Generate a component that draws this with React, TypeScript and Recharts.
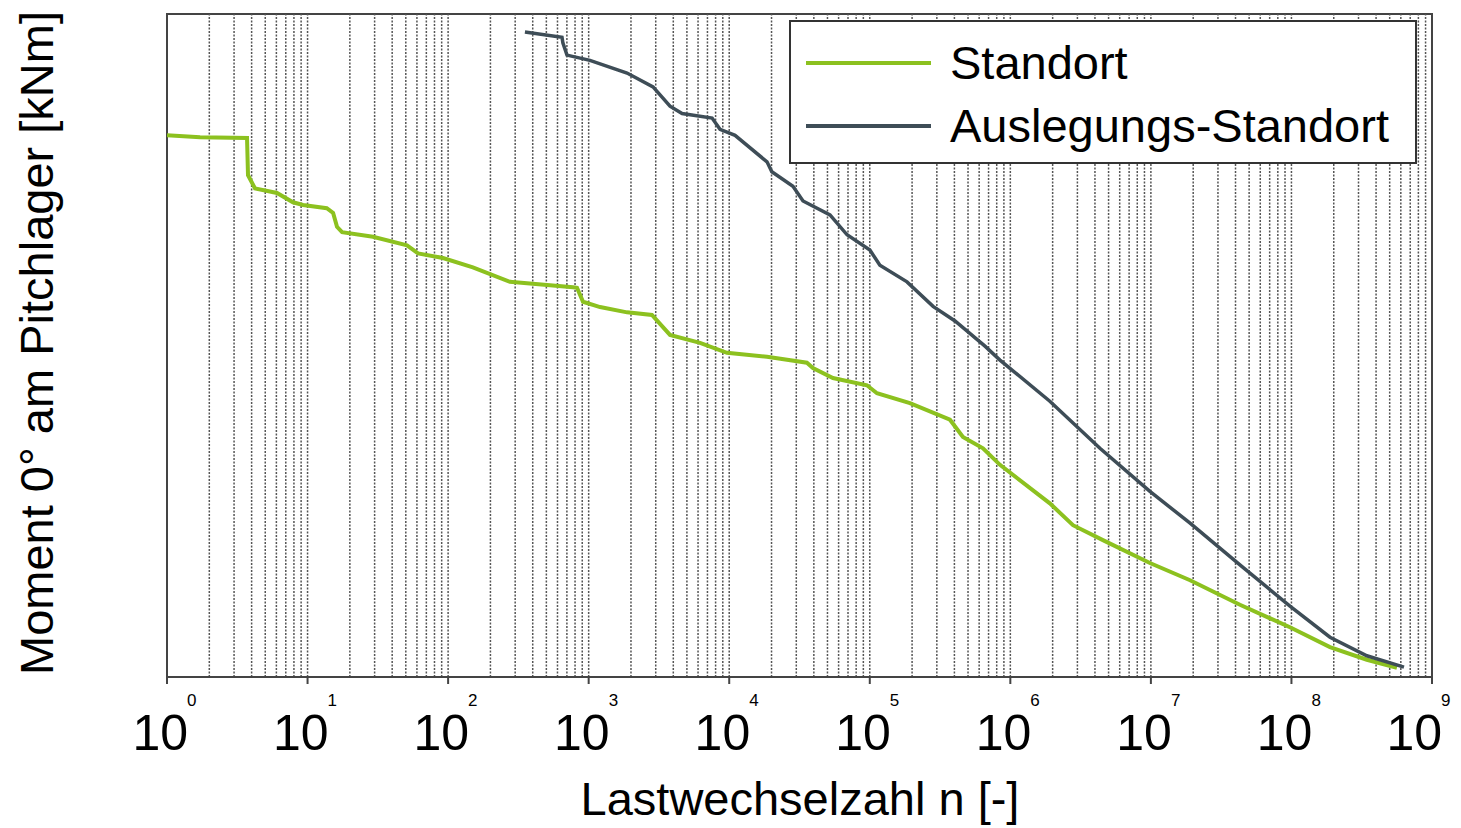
import React from 'react';
import { LineChart, Line, XAxis, YAxis, ReferenceLine, ReferenceArea } from 'recharts';

// Lastwechselzahl n (cycles) and moment values (relative units, axis is unlabeled)
const standortN = [1, 1.72, 3.71, 3.77, 4.23, 6.06, 7.88, 9.29, 13.7, 15.2, 16.2, 17.6, 29.2, 51, 61.1, 92, 150, 275, 364, 773, 826, 912, 1205, 1875, 2820, 3790, 6200, 9640, 18570, 35700, 39400, 54700, 95500, 112500, 193000, 372000, 460000, 639000, 844000, 1.91e6, 2.79e6, 4.71e6, 9.84e6, 1.9e7, 4.3e7, 9.76e7, 1.88e8, 3.44e8, 5.63e8];
const standortM = [817, 814, 813, 757, 737, 730, 716, 712, 707, 700, 679, 671, 664, 651, 639, 632, 618, 596, 594, 588, 587, 566, 558, 550, 546, 516, 504, 489, 483, 474, 466, 451, 440, 428, 413, 388, 362, 345, 320, 262, 229, 205, 172, 146, 109, 75, 45, 26, 14];

const auslegungN = [352, 646, 656, 701, 1021, 1875, 2870, 3790, 4620, 7550, 8600, 11000, 18570, 20100, 28400, 33500, 52100, 68900, 100200, 118000, 184000, 282000, 404000, 660000, 844000, 1.91e6, 4.34e6, 9.84e6, 1.9e7, 4.3e7, 9.76e7, 1.88e8, 3.44e8, 6.32e8];
const auslegungM = [973, 965, 956, 938, 930, 911, 890, 861, 850, 843, 826, 817, 777, 762, 740, 718, 697, 667, 644, 621, 596, 559, 537, 499, 478, 416, 345, 280, 232, 169, 107, 60, 32, 15];

const decades = [0, 1, 2, 3, 4, 5, 6, 7, 8, 9];
const seriesNames = ['Standort', 'Auslegungs-Standort'];
const seriesColors = ['#8cc11f', '#3e4d57'];

const standortData = standortN.map((n, i) => ({ n, m: standortM[i] }));
const auslegungData = auslegungN.map((n, i) => ({ n, m: auslegungM[i] }));
const decadeTicks = decades.map((d) => Math.pow(10, d));
const gridValues: number[] = [];
decades.slice(0, 9).forEach((d) => {
  for (let k = 1; k <= 9; k++) {
    const v = k * Math.pow(10, d);
    if (v > 1) gridValues.push(v);
  }
});

const FONT = '"Liberation Sans", Arial, sans-serif';

function PowerTick(props: any) {
  const { x, y, payload } = props;
  const exp = Math.round(Math.log10(payload.value));
  return (
    <g>
      <text x={x + 21} y={y + 66} textAnchor="end" fontSize={50} fontFamily={FONT} fill="#000">10</text>
      <text x={x + 20} y={y + 22} textAnchor="start" fontSize={17} fontFamily={FONT} fill="#000">{exp}</text>
    </g>
  );
}

function LegendBox() {
  return (
    <div style={{ position: 'absolute', left: 789, top: 20, width: 628, height: 144, border: '2px solid #333', boxSizing: 'border-box', background: '#fff', fontFamily: FONT }}>
      {seriesNames.map((name, i) => (
        <div key={name} style={{ position: 'absolute', left: 15, top: 16 + i * 63, display: 'flex', alignItems: 'center', height: 50 }}>
          <div style={{ width: 125, height: 4, background: seriesColors[i] }} />
          <span style={{ marginLeft: 19, fontSize: 47, color: '#000', lineHeight: '50px' }}>{name}</span>
        </div>
      ))}
    </div>
  );
}

export default function App() {
  return (
    <div style={{ position: 'absolute', left: 0, top: 0, width: 1461, height: 828, background: '#fff' }}>
      <LineChart width={1461} height={828} margin={{ top: 14, right: 29, bottom: 0, left: 167 }}>
        <XAxis
          dataKey="n"
          type="number"
          scale="log"
          domain={[1, 1e9]}
          ticks={decadeTicks}
          allowDataOverflow
          height={151}
          tickSize={7}
          tickMargin={0}
          tick={<PowerTick />}
          axisLine={{ stroke: '#444', strokeWidth: 2 }}
          tickLine={{ stroke: '#444', strokeWidth: 2 }}
        />
        <YAxis type="number" domain={[0, 1000]} hide width={0} />
        {gridValues.map((v) => (
          <ReferenceLine key={v} x={v} stroke="#555" strokeWidth={1.5} strokeDasharray="2 1.5" />
        ))}
        <ReferenceArea x1={1} x2={1e9} y1={0} y2={1000} fill="none" stroke="#444" strokeWidth={2} />
        <Line data={standortData} dataKey="m" name={seriesNames[0]} type="linear" stroke={seriesColors[0]} strokeWidth={4} dot={false} isAnimationActive={false} />
        <Line data={auslegungData} dataKey="m" name={seriesNames[1]} type="linear" stroke={seriesColors[1]} strokeWidth={3.5} dot={false} isAnimationActive={false} />
        <text x={800} y={815} textAnchor="middle" fontSize={47} fontFamily={FONT} fill="#000">Lastwechselzahl n [-]</text>
        <text x={53} y={343} textAnchor="middle" fontSize={47} fontFamily={FONT} fill="#000" transform="rotate(-90 53 343)">Moment 0° am Pitchlager [kNm]</text>
      </LineChart>
      <LegendBox />
    </div>
  );
}
